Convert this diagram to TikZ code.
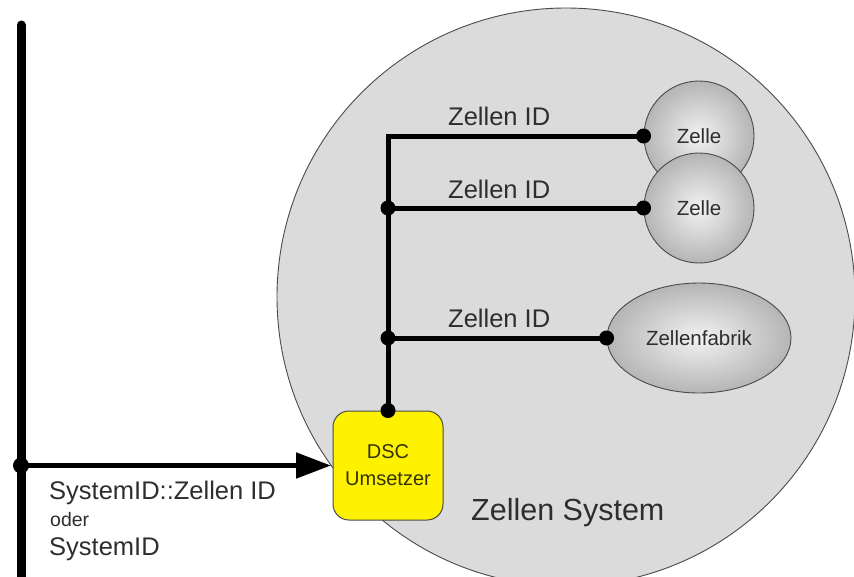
\documentclass[tikz,border=0pt]{standalone}
\usepackage{fontspec}
\setmainfont{Liberation Sans}
\usetikzlibrary{arrows.meta,shapes.geometric}
\definecolor{sysfill}{HTML}{DBDBDB}
\definecolor{edgegray}{HTML}{4A4A4A}
\definecolor{txtgray}{HTML}{2E2E2E}
\definecolor{dsctext}{HTML}{333300}
\begin{document}
\begin{tikzpicture}[x=1pt,y=-1pt,
  bus/.style={line width=5pt, draw=black},
  dotmark/.style={fill=black},
  cell/.style={circle, draw=edgegray, line width=0.9pt, inner sep=0pt,
    minimum size=110pt, shading=radial, inner color=gray!10, outer color=gray!58,
    font=\fontsize{20.5}{24}\selectfont, text=txtgray},
  factory/.style={ellipse, draw=edgegray, line width=0.9pt, inner sep=0pt,
    minimum width=184pt, minimum height=110pt, shading=radial,
    inner color=gray!10, outer color=gray!58,
    font=\fontsize{20.5}{24}\selectfont, text=txtgray},
  converter/.style={draw=edgegray, line width=1pt, fill=yellow, rounded corners=16pt,
    minimum width=110pt, minimum height=109pt, inner sep=0pt, align=center,
    font=\fontsize{20}{27}\selectfont, text=dsctext},
  idlabel/.style={anchor=base west, inner sep=0pt, text=txtgray,
    font=\fontsize{25.5}{29}\selectfont}]
\useasboundingbox (0,0) rectangle (854,576);

% the cell system
\node[circle, minimum size=578pt, inner sep=0pt, fill=sysfill, draw=edgegray,
  line width=0.9pt] (sys) at (566,297) {};
\node[anchor=base west, inner sep=0pt, text=txtgray,
  font=\fontsize{30.5}{34}\selectfont] (systitle) at (471,520) {Zellen System};

% external bus and input
\coordinate (bartop) at (21,25);
\coordinate (barbot) at (21,590);
\draw[line width=9pt, line cap=round] (bartop) -- (barbot);
\coordinate (tap) at (21,465.5);

% converter
\node[converter] (dsc) at (388,465.5) {DSC\\Umsetzer};
\draw[line width=5pt, shorten >=1.5pt, -{Triangle[length=35pt,width=25pt]}] (tap) -- (dsc.west);
\fill[dotmark] (tap) circle (8pt);

\node[idlabel] (inlab1) at (49,499) {SystemID::Zellen ID};
\node[idlabel, font=\fontsize{19.5}{22}\selectfont] (inlab2) at (50,526) {oder};
\node[idlabel] (inlab3) at (49,555) {SystemID};

% cells
\node[cell] (zelle1) at (699,136) {Zelle};
\node[cell] (zelle2) at (699,208) {Zelle};
\node[factory] (fab) at (699,338) {Zellenfabrik};

% internal bus
\coordinate (j2) at (dsc.north |- zelle2.west);
\coordinate (j3) at (dsc.north |- fab.west);
\draw[bus] (dsc.north) |- (zelle1.west);
\draw[bus] (j2) -- (zelle2.west);
\draw[bus] (j3) -- (fab.west);
\foreach \p in {dsc.north, j2, j3, zelle1.west, zelle2.west, fab.west}
  \fill[dotmark] (\p) circle (7.5pt);

\node[idlabel] (id1) at (448,125) {Zellen ID};
\node[idlabel] (id2) at (448,198) {Zellen ID};
\node[idlabel] (id3) at (448,327) {Zellen ID};
\end{tikzpicture}
\end{document}
